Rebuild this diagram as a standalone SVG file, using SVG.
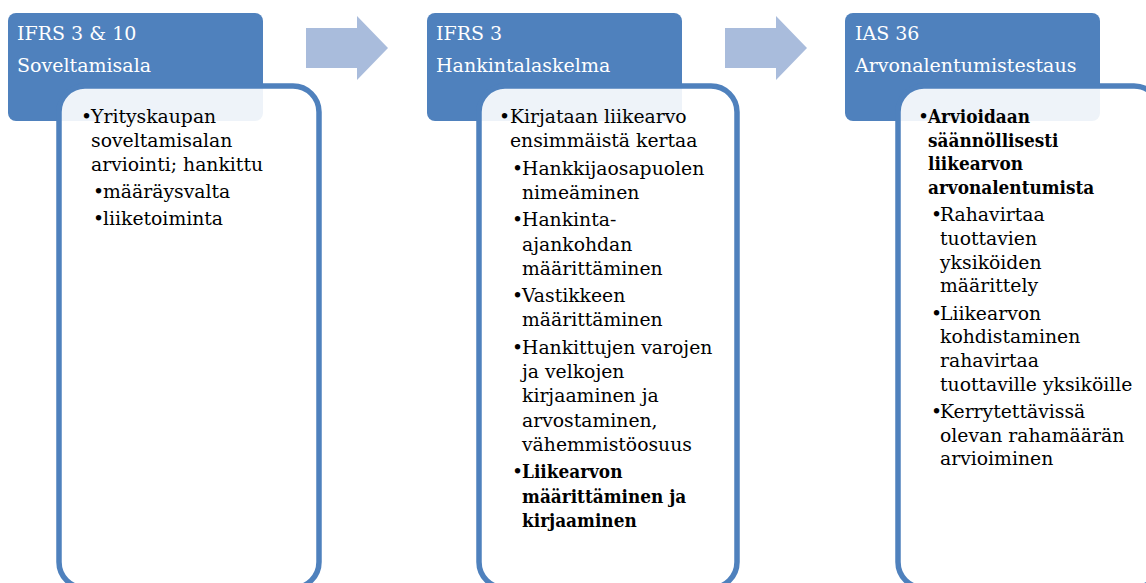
<svg xmlns="http://www.w3.org/2000/svg" width="1146" height="583" viewBox="0 0 1146 583">
<style>
.hdr{fill:#4f81bd;}
.body{fill:#ffffff;fill-opacity:0.9;stroke:#4f81bd;stroke-width:5.5;}
.ht{font-family:"DejaVu Serif","Liberation Serif",serif;font-size:19px;fill:#ffffff;}
.t{font-family:"DejaVu Serif","Liberation Serif",serif;font-size:18.8px;fill:#000000;}
.b{font-family:"DejaVu Serif Condensed","DejaVu Serif","Liberation Serif",serif;font-stretch:condensed;font-weight:bold;font-size:18.8px;fill:#000000;}
.arr{fill:#a9bcdc;}
</style>
<rect width="1146" height="583" fill="#ffffff"/>
<g id="connectors">
<polygon class="arr" points="306,28 357,28 357,16 388,48 357,80 357,68 306,68"/>
<polygon class="arr" points="725,28 776,28 776,16 807,48 776,80 776,68 725,68"/>
</g>
<g id="node1">
<rect class="hdr" x="8" y="13" width="255" height="108" rx="8"/>
<text class="ht" x="17" y="40">IFRS 3 &amp; 10</text>
<text class="ht" x="17" y="72">Soveltamisala</text>
<rect class="body" x="59" y="86" width="260" height="502" rx="26"/>
<text class="t" x="81" y="123">•</text>
<text class="t" x="91" y="123">Yrityskaupan</text>
<text class="t" x="91" y="147">soveltamisalan</text>
<text class="t" x="91" y="171">arviointi; hankittu</text>
<text class="t" x="93" y="198">•</text>
<text class="t" x="103" y="198">määräysvalta</text>
<text class="t" x="93" y="225">•</text>
<text class="t" x="103" y="225">liiketoiminta</text>
</g>
<g id="node2">
<rect class="hdr" x="427" y="13" width="255" height="108" rx="8"/>
<text class="ht" x="436" y="40">IFRS 3</text>
<text class="ht" x="436" y="72">Hankintalaskelma</text>
<rect class="body" x="479" y="86" width="258" height="502" rx="26"/>
<text class="t" x="499" y="123">•</text>
<text class="t" x="510" y="123">Kirjataan liikearvo</text>
<text class="t" x="510" y="147.3">ensimmäistä kertaa</text>
<text class="t" x="512" y="174.6">•</text>
<text class="t" x="522" y="174.6">Hankkijaosapuolen</text>
<text class="t" x="522" y="198.9">nimeäminen</text>
<text class="t" x="512" y="226.2">•</text>
<text class="t" x="522" y="226.2">Hankinta-</text>
<text class="t" x="522" y="250.5">ajankohdan</text>
<text class="t" x="522" y="274.8">määrittäminen</text>
<text class="t" x="512" y="302.1">•</text>
<text class="t" x="522" y="302.1">Vastikkeen</text>
<text class="t" x="522" y="326.4">määrittäminen</text>
<text class="t" x="512" y="353.7">•</text>
<text class="t" x="522" y="353.7">Hankittujen varojen</text>
<text class="t" x="522" y="378">ja velkojen</text>
<text class="t" x="522" y="402.3">kirjaaminen ja</text>
<text class="t" x="522" y="426.6">arvostaminen,</text>
<text class="t" x="522" y="450.9">vähemmistöosuus</text>
<text class="t" x="512" y="478.2">•</text>
<text class="b" x="522" y="478.2">Liikearvon</text>
<text class="b" x="522" y="502.5">määrittäminen ja</text>
<text class="b" x="522" y="526.8">kirjaaminen</text>
</g>
<g id="node3">
<rect class="hdr" x="845" y="13" width="255" height="108" rx="8"/>
<text class="ht" x="855" y="40">IAS 36</text>
<text class="ht" x="855" y="72">Arvonalentumistestaus</text>
<rect class="body" x="898" y="86" width="262" height="502" rx="26"/>
<text class="t" x="918" y="123">•</text>
<text class="b" x="928" y="123">Arvioidaan</text>
<text class="b" x="928" y="146.7">säännöllisesti</text>
<text class="b" x="928" y="170.4">liikearvon</text>
<text class="b" x="928" y="194.1">arvonalentumista</text>
<text class="t" x="931" y="221.3">•</text>
<text class="t" x="940" y="221.3">Rahavirtaa</text>
<text class="t" x="940" y="245">tuottavien</text>
<text class="t" x="940" y="268.7">yksiköiden</text>
<text class="t" x="940" y="292.4">määrittely</text>
<text class="t" x="931" y="319.6">•</text>
<text class="t" x="940" y="319.6">Liikearvon</text>
<text class="t" x="940" y="343.3">kohdistaminen</text>
<text class="t" x="940" y="367">rahavirtaa</text>
<text class="t" x="940" y="390.7">tuottaville yksiköille</text>
<text class="t" x="931" y="417.9">•</text>
<text class="t" x="940" y="417.9">Kerrytettävissä</text>
<text class="t" x="940" y="441.6">olevan rahamäärän</text>
<text class="t" x="940" y="465.3">arvioiminen</text>
</g>
</svg>
